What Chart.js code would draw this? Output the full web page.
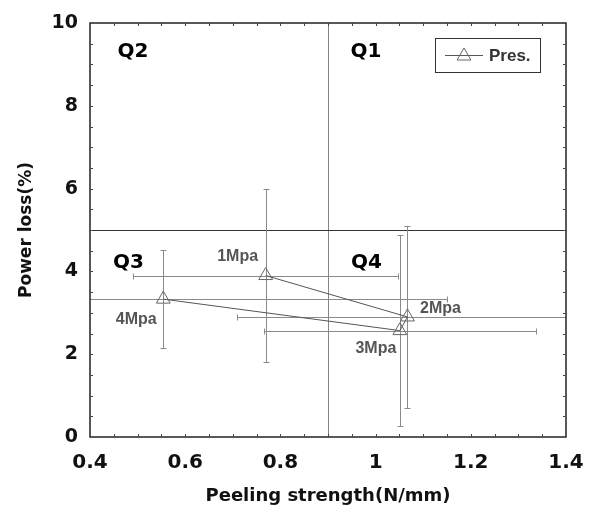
<!DOCTYPE html>
<html>
<head>
<meta charset="utf-8">
<script src="https://cdn.jsdelivr.net/npm/chart.js@4/dist/chart.umd.min.js"></script>
<style>
  html, body { margin: 0; padding: 0; background: #fff; }
  #wrap { width: 591px; height: 510px; }
</style>
</head>
<body>
<div id="wrap"><canvas id="c" width="591" height="510"></canvas></div>
<script>
// ---- data ----
const pressures = ['1Mpa', '2Mpa', '3Mpa', '4Mpa'];
const peelStrength = [0.769, 1.067, 1.051, 0.554];
const powerLoss = [3.90, 2.90, 2.57, 3.33];
const peelErr = [0.279, 0.359, 0.286, 0.595];
const lossErr = [2.09, 2.19, 2.31, 1.18];
const seriesName = 'Pres.';
const refPeel = 0.9;
const refLoss = 5;
const quadrants = ['Q1', 'Q2', 'Q3', 'Q4'];
const xTickValues = [0.4, 0.6, 0.8, 1, 1.2, 1.4];
const yTickValues = [0, 2, 4, 6, 8, 10];

// ---- styles / placement (not data) ----
const quadPos = { Q1: [0.98, 9.3], Q2: [0.49, 9.3], Q3: [0.481, 4.2], Q4: [0.981, 4.2] };
const labelOffsets = [[-28, -19], [33, -8], [-24, 18], [-27, 20]];

const points = peelStrength.map((x, i) => ({ x: x, y: powerLoss[i] }));

const overlay = {
  id: 'overlay',
  beforeDatasetsDraw(chart) {
    const { ctx, chartArea: a, scales: { x, y } } = chart;
    ctx.save();
    ctx.beginPath();
    ctx.rect(a.left, a.top, a.right - a.left, a.bottom - a.top);
    ctx.clip();
    // reference lines
    ctx.lineWidth = 1;
    ctx.strokeStyle = '#858585';
    const rx = Math.round(x.getPixelForValue(refPeel)) + 0.5;
    ctx.beginPath(); ctx.moveTo(rx, a.top); ctx.lineTo(rx, a.bottom); ctx.stroke();
    ctx.strokeStyle = '#333';
    const ry = Math.round(y.getPixelForValue(refLoss)) + 0.5;
    ctx.beginPath(); ctx.moveTo(a.left, ry); ctx.lineTo(a.right, ry); ctx.stroke();
    // error bars
    ctx.strokeStyle = '#8a8a8a';
    const cap = 3;
    peelStrength.forEach((px, i) => {
      const cx = Math.round(x.getPixelForValue(px)) + 0.5;
      const cy = Math.round(y.getPixelForValue(powerLoss[i])) + 0.5;
      const x1 = Math.round(x.getPixelForValue(px - peelErr[i])) + 0.5;
      const x2 = Math.round(x.getPixelForValue(px + peelErr[i])) + 0.5;
      const y1 = Math.round(y.getPixelForValue(powerLoss[i] + lossErr[i])) + 0.5;
      const y2 = Math.round(y.getPixelForValue(powerLoss[i] - lossErr[i])) + 0.5;
      ctx.beginPath();
      ctx.moveTo(x1, cy); ctx.lineTo(x2, cy);
      ctx.moveTo(x1, cy - cap); ctx.lineTo(x1, cy + cap);
      ctx.moveTo(x2, cy - cap); ctx.lineTo(x2, cy + cap);
      ctx.moveTo(cx, y1); ctx.lineTo(cx, y2);
      ctx.moveTo(cx - cap, y1); ctx.lineTo(cx + cap, y1);
      ctx.moveTo(cx - cap, y2); ctx.lineTo(cx + cap, y2);
      ctx.stroke();
    });
    ctx.restore();
  },
  afterDatasetsDraw(chart) {
    const { ctx, chartArea: a, scales: { x, y } } = chart;
    ctx.save();
    // frame
    ctx.strokeStyle = '#222';
    ctx.lineWidth = 1.5;
    ctx.strokeRect(a.left, a.top, a.right - a.left, a.bottom - a.top);
    // inward minor ticks
    ctx.lineWidth = 1;
    ctx.strokeStyle = '#444';
    const tl = 3;
    ctx.beginPath();
    for (let k = 1; k < 20; k++) {
      const v = 0.4 + k * 0.05;
      const px = Math.round(x.getPixelForValue(v)) + 0.5;
      ctx.moveTo(px, a.bottom); ctx.lineTo(px, a.bottom - tl);
      ctx.moveTo(px, a.top); ctx.lineTo(px, a.top + tl);
    }
    for (let k = 1; k < 20; k++) {
      const v = k * 0.5;
      const py = Math.round(y.getPixelForValue(v)) + 0.5;
      ctx.moveTo(a.left, py); ctx.lineTo(a.left + tl, py);
      ctx.moveTo(a.right, py); ctx.lineTo(a.right - tl, py);
    }
    ctx.stroke();
    // quadrant labels
    ctx.fillStyle = '#000';
    ctx.font = 'bold 20px "DejaVu Sans"';
    ctx.textAlign = 'center';
    ctx.textBaseline = 'middle';
    quadrants.forEach(q => {
      const p = quadPos[q];
      ctx.fillText(q, x.getPixelForValue(p[0]), y.getPixelForValue(p[1]));
    });
    // point labels
    ctx.fillStyle = '#555';
    ctx.font = 'bold 16px "Liberation Sans", Arial, sans-serif';
    pressures.forEach((lab, i) => {
      const px = x.getPixelForValue(peelStrength[i]) + labelOffsets[i][0];
      const py = y.getPixelForValue(powerLoss[i]) + labelOffsets[i][1];
      ctx.fillText(lab, px, py);
    });
    // legend
    const L = { x: 435.5, y: 38.5, w: 105, h: 34 };
    ctx.fillStyle = '#fff';
    ctx.fillRect(L.x, L.y, L.w, L.h);
    ctx.strokeStyle = '#333';
    ctx.lineWidth = 1;
    ctx.strokeRect(L.x, L.y, L.w, L.h);
    const ly = 55.5;
    ctx.strokeStyle = '#555';
    ctx.beginPath(); ctx.moveTo(445, ly); ctx.lineTo(483, ly); ctx.stroke();
    // triangle sample
    const r = 8, tcx = 464, tcy = 56;
    ctx.fillStyle = '#fff';
    ctx.strokeStyle = '#666';
    ctx.beginPath();
    for (let k = 0; k < 3; k++) {
      const ang = k * 2 * Math.PI / 3;
      const vx = tcx + Math.sin(ang) * r, vy = tcy - Math.cos(ang) * r;
      if (k === 0) ctx.moveTo(vx, vy); else ctx.lineTo(vx, vy);
    }
    ctx.closePath();
    ctx.stroke();
    ctx.fillStyle = '#333';
    ctx.textAlign = 'left';
    ctx.font = 'bold 17px "Liberation Sans", Arial, sans-serif';
    ctx.fillText(seriesName, 489, 56);
    ctx.restore();
  }
};

function fmt(v) { return String(Number(v.toFixed(2))); }

new Chart(document.getElementById('c'), {
  type: 'scatter',
  data: {
    datasets: [{
      label: seriesName,
      data: points,
      showLine: true,
      borderColor: '#555',
      borderWidth: 1,
      pointStyle: 'triangle',
      pointRadius: 8,
      pointHoverRadius: 8,
      pointBorderColor: '#666',
      pointBorderWidth: 1,
      pointBackgroundColor: 'rgba(0,0,0,0)',
      tension: 0
    }]
  },
  options: {
    responsive: false,
    animation: false,
    devicePixelRatio: 1,
    layout: { padding: { left: 0, right: 25, top: 23, bottom: 0 } },
    plugins: { legend: { display: false }, tooltip: { enabled: false } },
    scales: {
      x: {
        type: 'linear',
        min: 0.4, max: 1.4,
        afterBuildTicks(scale) { scale.ticks = xTickValues.map(v => ({ value: v })); },
        afterFit(scale) { scale.height = 73; scale.paddingLeft = 0; scale.paddingRight = 0; },
        grid: { display: false, drawTicks: false },
        border: { display: false },
        ticks: {
          padding: 14,
          color: '#111',
          font: { family: 'DejaVu Sans', size: 20, weight: 'bold' },
          callback: v => fmt(v),
          maxRotation: 0, autoSkip: false
        },
        title: {
          display: true,
          text: 'Peeling strength(N/mm)',
          color: '#111',
          font: { family: 'DejaVu Sans', size: 18, weight: 'bold' },
          padding: { top: 3, bottom: 3 }
        }
      },
      y: {
        type: 'linear',
        min: 0, max: 10,
        afterBuildTicks(scale) { scale.ticks = yTickValues.map(v => ({ value: v })); },
        afterFit(scale) { scale.width = 90; scale.paddingTop = 0; scale.paddingBottom = 0; },
        grid: { display: false, drawTicks: false },
        border: { display: false },
        ticks: {
          padding: 12,
          color: '#111',
          font: { family: 'DejaVu Sans', size: 19, weight: 'bold' },
          callback: v => fmt(v),
          autoSkip: false
        },
        title: {
          display: true,
          text: 'Power loss(%)',
          color: '#111',
          font: { family: 'DejaVu Sans', size: 17, weight: 'bold' },
          padding: { top: 16, bottom: 6 }
        }
      }
    }
  },
  plugins: [overlay]
});
</script>
</body>
</html>
